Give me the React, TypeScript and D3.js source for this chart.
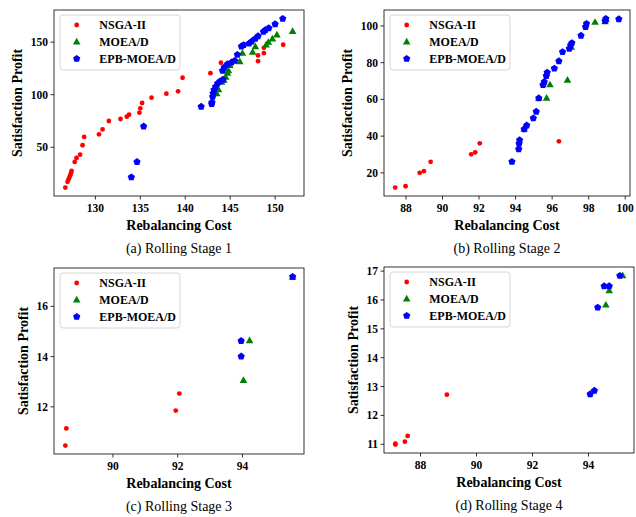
import React from 'react';
import * as d3 from 'd3';

type Pt = [number, number];

// Rolling stage 1: [rebalancing cost, satisfaction profit]
const stage1Nsga: Pt[] = [
  [126.66, 11.7], [126.9, 17.1], [127.0, 19.3], [127.1, 21], [127.2, 23.4], [127.3, 25.6],
  [127.35, 27.5], [127.7, 36.1], [127.9, 39.9], [128.3, 43], [128.57, 51.9], [128.75, 59.8],
  [130.4, 62.3], [130.8, 67], [131.5, 75], [132.8, 76.9], [133.5, 79.1], [133.75, 81],
  [134.9, 82.9], [135.0, 87], [135.2, 92.1], [136.25, 97.2], [137.9, 101], [139.2, 103.2],
  [139.7, 116.1], [142.8, 120.5], [143.97, 130.4], [148.1, 137.3], [148.1, 131.9],
  [148.75, 139.5], [148.75, 144.6], [150.9, 147.5],
];
const stage1Moead: Pt[] = [
  [143.5, 101], [143.7, 105], [144.04, 112], [144.3, 114], [144.5, 116.8], [144.7, 120.5],
  [144.8, 123], [144.97, 127.9], [146.07, 131.6], [146.36, 139.5], [147.5, 140.5],
  [147.8, 145.9], [149.0, 147.5], [149.25, 150], [149.7, 153.2], [150.2, 157], [151.95, 160.4],
];
const stage1Epb: Pt[] = [
  [134.0, 21.8], [134.63, 36.4], [135.37, 70.2], [141.77, 88.9], [142.94, 91.5], [142.98, 93],
  [143.05, 98.4], [143.1, 101.6], [143.2, 104.8], [143.38, 107.9], [143.6, 111], [143.86, 113],
  [144.2, 114.6], [144.15, 123.1], [144.34, 126.3], [144.7, 129.4], [145.15, 131], [145.5, 132.6],
  [145.8, 138.3], [146.25, 146.2], [146.5, 147.5], [147.1, 149], [147.4, 151], [147.8, 153.5],
  [148.1, 156], [148.7, 160.1], [148.9, 161.7], [149.3, 163.6], [150.0, 167.4], [150.85, 172.5],
];

// Rolling stage 2
const stage2Nsga: Pt[] = [
  [87.41, 12.0], [87.98, 12.7], [88.75, 20.0], [88.98, 20.9], [89.35, 26.0],
  [91.57, 30.1], [91.79, 31.2], [92.04, 36.1], [96.37, 37.2],
];
const stage2Moead: Pt[] = [
  [94.47, 44], [95.27, 60.8], [95.7, 60.8], [95.88, 68.1], [96.84, 70.6], [97.05, 88.5],
  [98.35, 102.1], [98.9, 102.4], [98.95, 103.5],
];
const stage2Epb: Pt[] = [
  [93.8, 26.2], [94.17, 33.1], [94.19, 36.1], [94.22, 38], [94.47, 44], [94.61, 46],
  [94.97, 49.9], [95.13, 53.5], [95.27, 60.8], [95.5, 68.1], [95.57, 69.7], [95.68, 73],
  [95.73, 74.8], [96.12, 77], [96.37, 81], [96.57, 86], [96.94, 87.8], [97.01, 89.7],
  [97.08, 90.9], [97.58, 94.9], [97.83, 99.6], [97.88, 101.4], [98.9, 102.9], [98.94, 104.1],
  [99.65, 103.9],
];

// Rolling stage 3
const stage3Nsga: Pt[] = [[88.53, 10.46], [88.56, 11.14], [91.94, 11.85], [92.05, 12.53]];
const stage3Moead: Pt[] = [[94.03, 13.06], [94.22, 14.64], [95.55, 17.17]];
const stage3Epb: Pt[] = [[93.96, 14.64], [93.96, 14.02], [95.55, 17.19]];

// Rolling stage 4
const stage4Nsga: Pt[] = [[87.1, 10.99], [87.1, 11.02], [87.44, 11.09], [87.54, 11.29], [88.94, 12.72]];
const stage4Moead: Pt[] = [[94.62, 15.83], [94.74, 16.33], [95.22, 16.85]];
const stage4Epb: Pt[] = [
  [94.06, 12.75], [94.21, 12.87], [94.33, 15.75], [94.56, 16.49], [94.74, 16.49], [95.12, 16.85],
];

const stage1XTicks = [130, 135, 140, 145, 150];
const stage1YTicks = [50, 100, 150];
const stage2XTicks = [88, 90, 92, 94, 96, 98, 100];
const stage2YTicks = [20, 40, 60, 80, 100];
const stage3XTicks = [90, 92, 94];
const stage3YTicks = [12, 14, 16];
const stage4XTicks = [88, 90, 92, 94];
const stage4YTicks = [11, 12, 13, 14, 15, 16, 17];

const seriesNames = ['NSGA-II', 'MOEA/D', 'EPB-MOEA/D'];
const captions = ['(a) Rolling Stage 1', '(b) Rolling Stage 2', '(c) Rolling Stage 3', '(d) Rolling Stage 4'];

const WIDTH = 636;
const HEIGHT = 517;
const PH = 186;
const FONT = "'Liberation Serif', 'Times New Roman', serif";
const RED = '#ff0000';
const GREEN = '#008000';
const BLUE = '#0000ff';

// matplotlib-style autoscale: data extent plus 5% on each side
function paddedDomain(vals: number[]): [number, number] {
  const [lo, hi] = d3.extent(vals) as [number, number];
  const m = (hi - lo) * 0.05;
  return [lo - m, hi + m];
}

function polygonPath(n: number, r: number): string {
  const pts: [number, number][] = d3.range(n).map((i) => {
    const a = -Math.PI / 2 + (i * 2 * Math.PI) / n;
    return [r * Math.cos(a), r * Math.sin(a)];
  });
  return d3.line()(pts) + 'Z';
}

const pentagon = polygonPath(5, 3.8);
const triangle = polygonPath(3, 4.4);

function Marker({ kind, cx, cy }: { kind: number; cx: number; cy: number }) {
  if (kind === 0) return <circle cx={cx} cy={cy} r={2.4} fill={RED} />;
  if (kind === 1) return <path d={triangle} transform={`translate(${cx},${cy + 0.5})`} fill={GREEN} />;
  return <path d={pentagon} transform={`translate(${cx},${cy + 0.3})`} fill={BLUE} />;
}

interface PanelProps {
  left: number;
  top: number;
  width: number;
  caption: string;
  series: Pt[][];
  xTicks: number[];
  yTicks: number[];
}

function Panel({ left, top, width, caption, series, xTicks, yTicks }: PanelProps) {
  const all = series.flat();
  const x = d3.scaleLinear().domain(paddedDomain(all.map((d) => d[0]))).range([left, left + width]);
  const y = d3.scaleLinear().domain(paddedDomain(all.map((d) => d[1]))).range([top + PH, top]);
  const bottom = top + PH;
  const maxLabelLen = d3.max(yTicks, (t) => String(t).length) as number;
  const ylabelX = left - (maxLabelLen >= 3 ? 37 : 31);
  const lgX = left + 6;
  const lgY = top + 5;
  const clipId = `clip-${left}-${top}`;

  return (
    <g fontFamily={FONT}>
      <defs>
        <clipPath id={clipId}>
          <rect x={left} y={top} width={width} height={PH} />
        </clipPath>
      </defs>
      <g clipPath={`url(#${clipId})`}>
        {series.map((pts, k) => (
          <g key={k}>
            {pts.map((d, i) => (
              <Marker key={i} kind={k} cx={x(d[0])} cy={y(d[1])} />
            ))}
          </g>
        ))}
      </g>
      <rect x={left} y={top} width={width} height={PH} fill="none" stroke="#000" strokeWidth={0.8} />
      {xTicks.map((t) => (
        <g key={t}>
          <line x1={x(t)} x2={x(t)} y1={bottom} y2={bottom + 3.5} stroke="#000" strokeWidth={0.8} />
          <text x={x(t)} y={bottom + 16} textAnchor="middle" fontSize={11.5} fontWeight="bold">
            {t}
          </text>
        </g>
      ))}
      {yTicks.map((t) => (
        <g key={t}>
          <line x1={left - 3.5} x2={left} y1={y(t)} y2={y(t)} stroke="#000" strokeWidth={0.8} />
          <text x={left - 6} y={y(t)} dy="0.35em" textAnchor="end" fontSize={11.5} fontWeight="bold">
            {t}
          </text>
        </g>
      ))}
      <text x={left + width / 2} y={bottom + 34} textAnchor="middle" fontSize={14} fontWeight="bold">
        Rebalancing Cost
      </text>
      <text
        transform={`translate(${ylabelX},${top + PH / 2}) rotate(-90)`}
        textAnchor="middle"
        dy="0.35em"
        fontSize={14}
        fontWeight="bold"
      >
        Satisfaction Profit
      </text>
      <g>
        <rect x={lgX} y={lgY} width={120} height={55} rx={3} fill="#fff" fillOpacity={0.8} stroke="#cccccc" strokeWidth={0.8} />
        {seriesNames.map((name, k) => {
          const ry = lgY + 10 + k * 16.7;
          return (
            <g key={name}>
              <Marker kind={k} cx={lgX + 16.7} cy={ry} />
              <text x={lgX + 39.3} y={ry} dy="0.35em" fontSize={12} fontWeight="bold">
                {name}
              </text>
            </g>
          );
        })}
      </g>
      <text x={left + width / 2} y={top + 243} textAnchor="middle" fontSize={14}>
        {caption}
      </text>
    </g>
  );
}

export default function App() {
  return (
    <svg
      width={WIDTH}
      height={HEIGHT}
      style={{ position: 'absolute', left: 0, top: 0, background: '#fff' }}
    >
      <rect width={WIDTH} height={HEIGHT} fill="#fff" />
      <Panel left={54} top={10} width={250} caption={captions[0]} series={[stage1Nsga, stage1Moead, stage1Epb]} xTicks={stage1XTicks} yTicks={stage1YTicks} />
      <Panel left={384} top={10} width={246} caption={captions[1]} series={[stage2Nsga, stage2Moead, stage2Epb]} xTicks={stage2XTicks} yTicks={stage2YTicks} />
      <Panel left={54} top={268} width={250} caption={captions[2]} series={[stage3Nsga, stage3Moead, stage3Epb]} xTicks={stage3XTicks} yTicks={stage3YTicks} />
      <Panel left={384} top={267} width={250} caption={captions[3]} series={[stage4Nsga, stage4Moead, stage4Epb]} xTicks={stage4XTicks} yTicks={stage4YTicks} />
    </svg>
  );
}
